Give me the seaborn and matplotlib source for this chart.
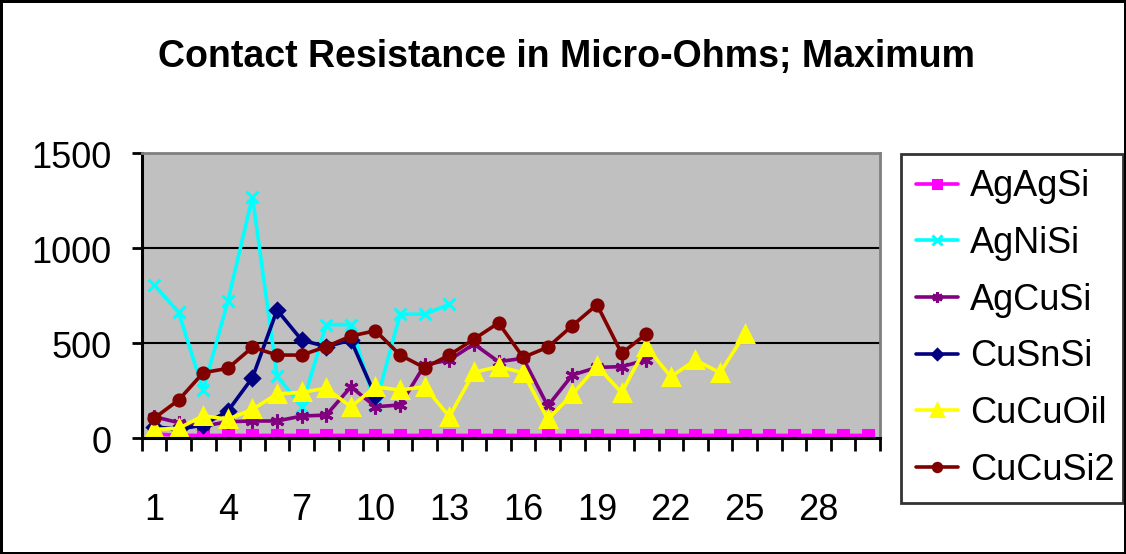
import numpy as np
import pandas as pd
import matplotlib
matplotlib.use("Agg")
import matplotlib.pyplot as plt
import matplotlib.transforms as mtransforms
import seaborn as sns

# ---- data ----
categories = list(range(1, 31))
tick_labels = ["1", "4", "7", "10", "13", "16", "19", "22", "25", "28"]

AgAgSi = [20] + [12] * 29
AgNiSi = [805, 660, 250, 718, 1268, 325, 163, 595, 595, 172, 650, 650, 702]
AgCuSi = [111, 79, 61, 84, 88, 88, 114, 119, 268, 163, 172, 383, 409, 493,
          400, 418, 167, 330, 370, 374, 409]
CuSnSi = [58, 44, 67, 140, 316, 672, 514, 479, 514, 219]
CuCuOil = [44, 49, 116, 97, 149, 230, 239, 260, 163, 268, 251, 268, 111, 344,
           374, 342, 97, 228, 377, 237, 479, 321, 409, 342, 544]
CuCuSi2 = [102, 198, 342, 365, 476, 435, 435, 479, 535, 563, 435, 368, 435,
           519, 604, 423, 476, 590, 700, 444, 546]

series_names = ["AgAgSi", "AgNiSi", "AgCuSi", "CuSnSi", "CuCuOil", "CuCuSi2"]
series_values = [AgAgSi, AgNiSi, AgCuSi, CuSnSi, CuCuOil, CuCuSi2]

colors = {"AgAgSi": "#FF00FF", "AgNiSi": "#00FFFF", "AgCuSi": "#800080",
          "CuSnSi": "#000080", "CuCuOil": "#FFFF00", "CuCuSi2": "#800000"}
markers = {"AgAgSi": "s", "AgNiSi": "x", "AgCuSi": (6, 2, 0),
           "CuSnSi": "D", "CuCuOil": "^", "CuCuSi2": "o"}
msizes = {"AgAgSi": 7, "AgNiSi": 9, "AgCuSi": 10, "CuSnSi": 7,
          "CuCuOil": 11, "CuCuSi2": 8}

rows = []
for name, vals in zip(series_names, series_values):
    for c, v in zip(categories, vals):
        rows.append({"Test": c, "Value": v, "Series": name})
df = pd.DataFrame(rows)

# ---- figure ----
sns.set_style("white")
plt.rcParams["font.family"] = ["Liberation Sans", "DejaVu Sans"]
plt.rcParams["text.color"] = "black"
plt.rcParams["xtick.color"] = "black"
plt.rcParams["ytick.color"] = "black"
plt.rcParams["axes.labelcolor"] = "black"

fig = plt.figure(figsize=(11.26, 5.54), dpi=100, facecolor="white",
                 edgecolor="black", linewidth=2.5)
ax = fig.add_axes([141.7 / 1126, 1 - 437.7 / 554,
                   (880 - 141.7) / 1126, (437.7 - 152.7) / 554])
ax.set_facecolor("#C0C0C0")

for name in series_names:
    sub = df[df["Series"] == name]
    sns.lineplot(data=sub, x="Test", y="Value", ax=ax, color=colors[name],
                 marker=markers[name], markersize=msizes[name],
                 markeredgecolor=colors[name], markerfacecolor=colors[name],
                 markeredgewidth=2.2, linewidth=2.6, label=name,
                 estimator=None, sort=False)

ax.set_xlim(0.5, 30.5)
ax.set_ylim(0, 1500)
ax.set_xlabel("")
ax.set_ylabel("")

ax.set_xticks(categories[::3])
ax.set_xticklabels(tick_labels)
ax.set_xticks(np.arange(0.5, 31, 1), minor=True)
ax.tick_params(axis="x", which="major", length=0, pad=40, labelsize=26,
               labelcolor="black")
ax.tick_params(axis="x", which="minor", length=9, width=2, color="black",
               direction="out", bottom=True)
ax.set_yticks([0, 500, 1000, 1500])
ax.tick_params(axis="y", which="major", length=7, width=2, color="black",
               pad=15, labelsize=26, left=True, labelcolor="black")
offset = mtransforms.ScaledTranslation(0, -6 / 100, fig.dpi_scale_trans)
for tick in ax.yaxis.get_major_ticks():
    tick.label1.set_verticalalignment("center")
    tick.label1.set_transform(tick.label1.get_transform() + offset)

ax.yaxis.grid(True, color="black", linewidth=1.5)
ax.get_ygridlines()[-1].set_visible(False)
ax.get_ygridlines()[0].set_visible(False)
ax.set_axisbelow(True)

for s in ["left", "bottom"]:
    ax.spines[s].set_color("black")
    ax.spines[s].set_linewidth(2.2)
for s in ["top", "right"]:
    ax.spines[s].set_color("#808080")
    ax.spines[s].set_linewidth(2)

leg = ax.legend(loc="upper left",
                bbox_to_anchor=(901 / 1126, 1 - 154 / 554, 222 / 1126, 0.0),
                bbox_transform=fig.transFigure, mode="expand",
                fontsize=26, frameon=True, fancybox=False, shadow=False,
                borderpad=0.42, labelspacing=0.6, handlelength=1.15,
                handletextpad=0.35, borderaxespad=0, markerscale=0.75)
leg.get_frame().set_edgecolor("black")
leg.get_frame().set_linewidth(2)
leg.get_frame().set_facecolor("white")
for t in leg.get_texts():
    t.set_color("black")

fig.text(567 / 1126, 1 - 67 / 554, "Contact Resistance in Micro-Ohms; Maximum",
         ha="center", va="baseline", fontsize=27, fontweight="bold",
         color="black")

fig.savefig("out.png", dpi=100)
